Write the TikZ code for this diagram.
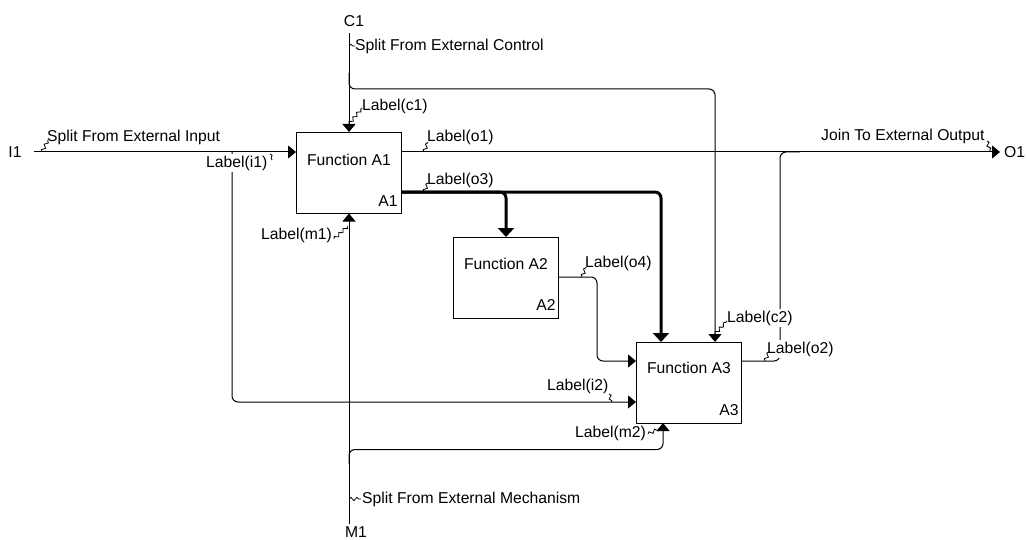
\documentclass[tikz,border=0pt]{standalone}
\usepackage{fontspec}
\setmainfont{Liberation Sans}
\usetikzlibrary{arrows.meta,decorations.pathmorphing}
\begin{document}
\begin{tikzpicture}[x=1pt,y=-1pt,
  every node/.style={font=\fontsize{15.7}{18}\selectfont},
  fbox/.style={draw,line width=1pt,fill=white,minimum width=105pt,minimum height=80.5pt,anchor=north west,inner sep=0pt},
  flow/.style={line width=1pt,rounded corners=6pt},
  heavy/.style={line width=3pt,rounded corners=6pt},
  tip/.style={-{Triangle[length=8pt,width=13pt]}},
  bigtip/.style={-{Triangle[length=9pt,width=16pt]}},
  lbl/.style={anchor=west,fill=white,inner xsep=1pt,inner ysep=2pt},
  sq/.style={line width=0.8pt,decorate,decoration={snake,segment length=6pt,amplitude=1.6pt}},
]
\useasboundingbox (0,0) rectangle (1027,540);

% activity boxes
\node[fbox] (A1) at (296,132) {};
\node[fbox] (A2) at (453,237) {};
\node[fbox] (A3) at (636,342) {};
\node (A1t) at ([yshift=-28pt]A1.north) {Function A1};
\node (A2t) at ([yshift=-27pt]A2.north) {Function A2};
\node (A3t) at ([yshift=-26pt]A3.north) {Function A3};
\node (A1n) at ([xshift=-14pt,yshift=12pt]A1.south east) {A1};
\node (A2n) at ([xshift=-13pt,yshift=13pt]A2.south east) {A2};
\node (A3n) at ([xshift=-13pt,yshift=13pt]A3.south east) {A3};

% boundary arrows
\node (I1) at (15,152) {I1};
\node (C1) at (354,21) {C1};
\node (M1) at (356,532) {M1};
\node[anchor=west,inner sep=0pt] (O1) at (1004,152) {O1};
\coordinate (i1s) at (34,152);
\coordinate (c1s) at ([yshift=99pt]A1.north);
\coordinate (m1s) at ([yshift=-310pt]A1.south);
\coordinate (o1e) at (1000,152);

% ports
\coordinate (A1in) at (296,152);
\coordinate (A1o1) at (401,152);
\coordinate (A1o3) at (401,192);
\coordinate (A2out) at (558,277);
\coordinate (A3ctl1) at (661,342);
\coordinate (A3ctl2) at (715,342);
\coordinate (A3in1) at (636,361);
\coordinate (A3in2) at (636,402);
\coordinate (A3mech) at (663,423);
\coordinate (A3out) at (741,361);
\coordinate (i1split) at (232,152);
\coordinate (c1split) at ([yshift=-40pt]c1s);
\coordinate (m1split) at ([yshift=60pt]m1s);
\coordinate (o2join) at (800,152);

% arrows
\draw[flow,tip] (i1s) -- (A1in);
\draw[flow,tip] (i1split) |- (A3in2);
\draw[flow,tip] (c1s) -- (A1.north);
\draw[flow,tip] (c1split) -- ++(0,16) -| (A3ctl2);
\draw[flow,tip] (m1s) -- (A1.south);
\draw[flow,tip] (m1split) -- ++(0,-14) -| (A3mech);
\draw[flow,tip] (A1o1) -- (o1e);
\draw[flow] (A3out) -- ++(39,0) |- (o2join);
\draw[heavy,bigtip] (A1o3) -| (A2.north);
\draw[heavy,bigtip] (A1o3) -| (A3ctl1);
\draw[flow,tip] (A2out) -- ++(39,0) |- (A3in1);

% arrow labels
\node[lbl] (lsi) at (46,137) {Split From External Input};
\node[lbl] (li1) at (205,163) {Label(i1)};
\node[lbl] (lsc) at (354,46) {Split From External Control};
\node[lbl] (lc1) at (361,106) {Label(c1)};
\node[lbl] (lo1) at (426,137) {Label(o1)};
\node[lbl] (lo3) at (426,180) {Label(o3)};
\node[lbl] (lm1) at (260,235) {Label(m1)};
\node[lbl] (lo4) at (584,263) {Label(o4)};
\node[lbl] (lc2) at (726,318) {Label(c2)};
\node[lbl] (lo2) at (766,349) {Label(o2)};
\node[lbl] (li2) at (546,386) {Label(i2)};
\node[lbl] (lm2) at (574,433) {Label(m2)};
\node[lbl] (lsm) at (361,499) {Split From External Mechanism};
\node[lbl] (ljo) at (820,136) {Join To External Output};

% label leaders
\draw[sq] (42,152) -- (48,140);
\draw[sq] (270,154) -- (272,160);
\draw[sq] (349,46) -- (355,46);
\draw[sq] (349,124) -- (362,108);
\draw[sq] (424,152) -- (428,142);
\draw[sq] (424,192) -- (428,183);
\draw[sq] (334,239) -- (348,226);
\draw[sq] (582,277) -- (586,267);
\draw[sq] (715,334) -- (727,321);
\draw[sq] (765,361) -- (769,352);
\draw[sq] (609,394) -- (612,402);
\draw[sq] (648,434) -- (661,428);
\draw[sq] (349,499) -- (361,499);
\draw[sq] (987,141) -- (990,151);
\end{tikzpicture}
\end{document}
